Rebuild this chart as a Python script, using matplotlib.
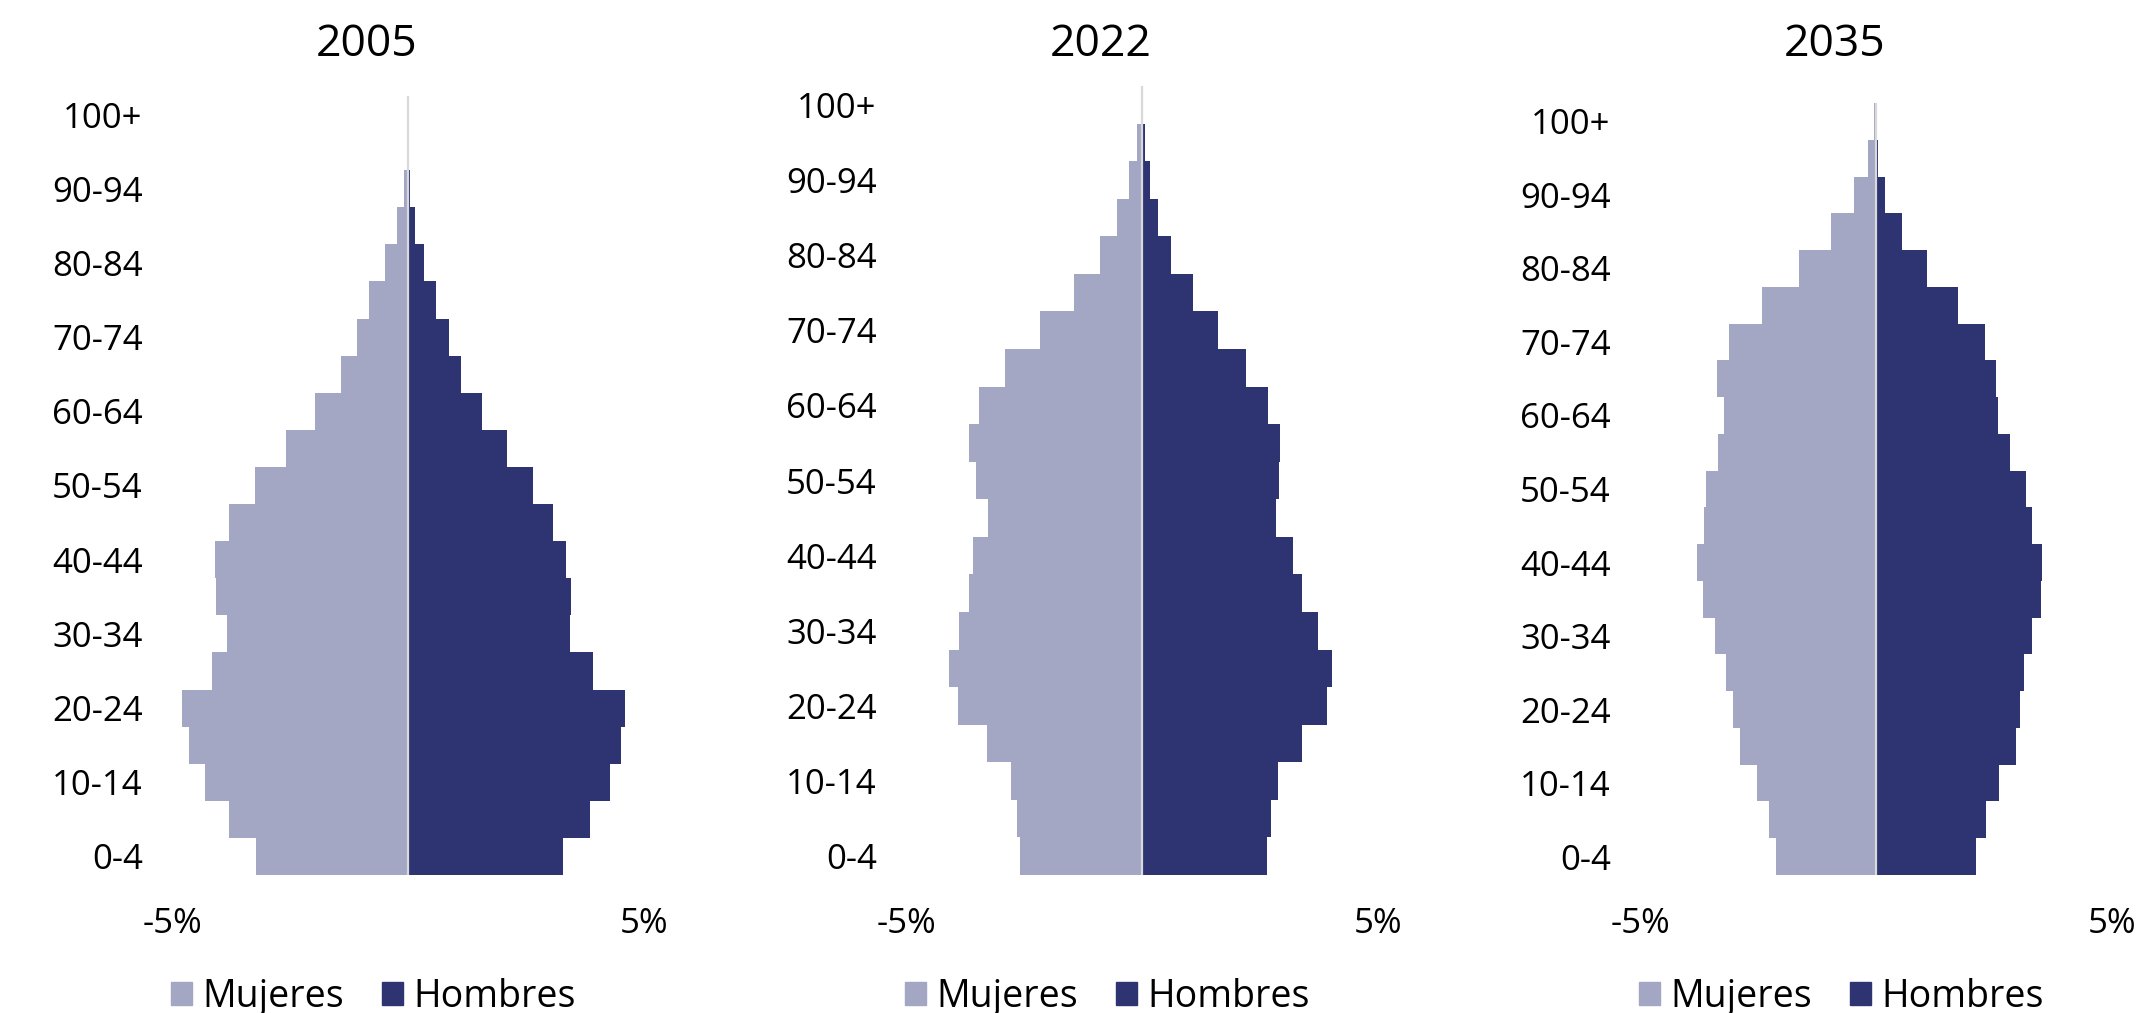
import numpy as np
import matplotlib.pyplot as plt
from matplotlib.patches import Patch

plt.rcParams['font.family'] = ['Open Sans', 'DejaVu Sans']

ages = ["0-4", "5-9", "10-14", "15-19", "20-24", "25-29", "30-34", "35-39",
        "40-44", "45-49", "50-54", "55-59", "60-64", "65-69", "70-74",
        "75-79", "80-84", "85-89", "90-94", "95-99", "100+"]
years = ["2005", "2022", "2035"]

# % of total population (0-4 first)
mujeres_2005 = [3.22, 3.80, 4.31, 4.65, 4.79, 4.15, 3.84, 4.07, 4.09, 3.80, 3.25,
                2.59, 1.96, 1.42, 1.09, 0.82, 0.49, 0.23, 0.09, 0.02, 0.003]
hombres_2005 = [3.28, 3.85, 4.29, 4.52, 4.59, 3.93, 3.44, 3.45, 3.34, 3.07, 2.65,
                2.10, 1.57, 1.13, 0.86, 0.60, 0.34, 0.14, 0.05, 0.01, 0.002]
mujeres_2022 = [2.58, 2.65, 2.78, 3.28, 3.90, 4.08, 3.87, 3.67, 3.58, 3.27, 3.51,
                3.67, 3.45, 2.91, 2.16, 1.45, 0.90, 0.52, 0.27, 0.11, 0.02]
hombres_2022 = [2.65, 2.74, 2.89, 3.40, 3.92, 4.03, 3.73, 3.40, 3.19, 2.84, 2.91,
                2.93, 2.66, 2.21, 1.62, 1.07, 0.62, 0.33, 0.16, 0.07, 0.01]
mujeres_2035 = [2.11, 2.27, 2.52, 2.88, 3.03, 3.18, 3.42, 3.67, 3.79, 3.65, 3.61,
                3.35, 3.23, 3.37, 3.12, 2.42, 1.63, 0.96, 0.46, 0.17, 0.04]
hombres_2035 = [2.12, 2.32, 2.61, 2.97, 3.05, 3.13, 3.31, 3.50, 3.51, 3.30, 3.17,
                2.84, 2.58, 2.55, 2.30, 1.73, 1.07, 0.55, 0.20, 0.05, 0.01]

mujeres = [mujeres_2005, mujeres_2022, mujeres_2035]
hombres = [hombres_2005, hombres_2022, hombres_2035]

C_MUJ = '#A3A7C4'
C_HOM = '#2E3372'

W, H = 2141, 1013
fig = plt.figure(figsize=(W / 100, H / 100), dpi=100)

# panel layout in pixels
lefts = [172, 906, 1640]
tops = [96, 86, 103]
bottom = 875
width = 472

y = np.arange(len(ages))
for i, year in enumerate(years):
    left = lefts[i]
    ax = fig.add_axes([left / W, 1 - bottom / H, width / W, (bottom - tops[i]) / H])
    ax.barh(y, -np.array(mujeres[i]), height=1.0, color=C_MUJ, linewidth=0)
    ax.barh(y, hombres[i], height=1.0, color=C_HOM, linewidth=0)
    ax.axvline(0, color='#D9D9D9', lw=1.6)
    ax.set_xlim(-5, 5)
    ax.set_ylim(-0.5, len(ages) - 0.5)
    ax.set_xticks([-5, 5])
    ax.set_xticklabels(['-5%', '5%'])
    ax.set_yticks(y[::2])
    ax.set_yticklabels(ages[::2])
    for s in ax.spines.values():
        s.set_visible(False)
    ax.tick_params(length=0, labelsize=25, colors='black')
    ax.tick_params(axis='y', pad=21)
    ax.tick_params(axis='x', pad=23)

    fig.text((left + 195) / W, 1 - 45 / H, year, ha='center', va='center', fontsize=32)
    handles = [Patch(color=C_MUJ, label='Mujeres'), Patch(color=C_HOM, label='Hombres')]
    fig.legend(handles=handles, loc='center', bbox_to_anchor=((left + 201.5) / W, 1 - 997 / H),
               ncol=2, frameon=False, fontsize=27, handlelength=0.55, handleheight=0.55,
               handletextpad=0.3, columnspacing=1.0, borderpad=0)

fig.savefig('out.png', dpi=100)
